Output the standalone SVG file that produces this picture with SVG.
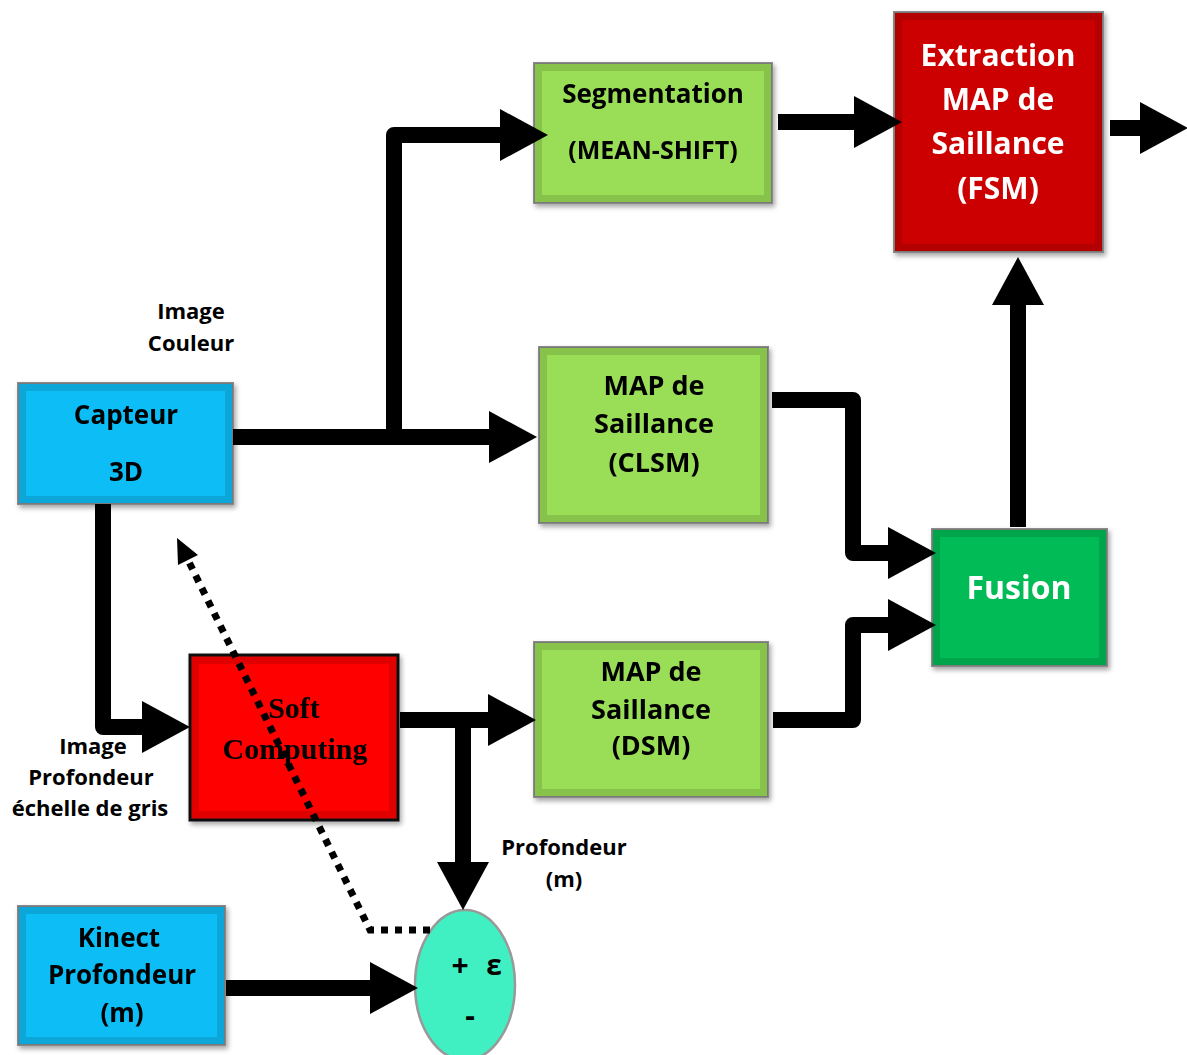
<svg xmlns="http://www.w3.org/2000/svg" width="1187" height="1055" viewBox="0 0 1187 1055">
<defs>
<style>
.box{stroke:#8a8a8a;stroke-width:2}
.bevel{fill:none;stroke:#000;stroke-opacity:0.12;stroke-width:8}
.t{font-family:"Open Sans",Lato,"Liberation Sans",sans-serif;font-weight:bold;text-anchor:middle;fill:#000}
.w{fill:#fff}
.lbl{font-family:"Open Sans",Lato,"Liberation Sans",sans-serif;font-weight:bold;font-size:22px;text-anchor:middle;fill:#000}
.c{fill:none;stroke:#000;stroke-width:16;stroke-linejoin:round;marker-end:url(#ah)}
.dot{fill:none;stroke:#000;stroke-width:7;stroke-dasharray:7 7}
</style>
<marker id="ah" markerUnits="userSpaceOnUse" markerWidth="50" markerHeight="52" refX="0" refY="26" orient="auto" overflow="visible">
<path d="M0,0 L48,26 L0,52 z" fill="#000"/>
</marker>
<filter id="sh" x="-10%" y="-10%" width="130%" height="130%">
<feDropShadow dx="2" dy="3" stdDeviation="2.5" flood-color="#000" flood-opacity="0.35"/>
</filter>
</defs>

<g id="capteur" filter="url(#sh)">
<rect class="box" x="18" y="383" width="215" height="121" fill="#08BDF6"/>
<rect class="bevel" x="22" y="387" width="207" height="113"/>
<text class="t" x="126" y="424" font-size="26">Capteur</text>
<text class="t" x="126" y="481" font-size="26">3D</text>
</g>

<g id="segmentation" filter="url(#sh)">
<rect class="box" x="534" y="63" width="238" height="140" fill="#9ADD57"/>
<rect class="bevel" x="538" y="67" width="230" height="132"/>
<text class="t" x="653" y="103" font-size="26">Segmentation</text>
<text class="t" x="653" y="159" font-size="25">(MEAN-SHIFT)</text>
</g>

<g id="clsm" filter="url(#sh)">
<rect class="box" x="539" y="347" width="229" height="176" fill="#9ADD57"/>
<rect class="bevel" x="543" y="351" width="221" height="168"/>
<text class="t" x="654" y="395" font-size="27">MAP de</text>
<text class="t" x="654" y="433" font-size="27">Saillance</text>
<text class="t" x="654" y="472" font-size="27">(CLSM)</text>
</g>

<g id="dsm" filter="url(#sh)">
<rect class="box" x="534" y="642" width="234" height="155" fill="#9ADD57"/>
<rect class="bevel" x="538" y="646" width="226" height="147"/>
<text class="t" x="651" y="681" font-size="27">MAP de</text>
<text class="t" x="651" y="719" font-size="27">Saillance</text>
<text class="t" x="651" y="755" font-size="27">(DSM)</text>
</g>

<g id="fsm" filter="url(#sh)">
<rect class="box" x="894" y="12" width="209" height="240" fill="#CC0000"/>
<rect class="bevel" x="898" y="16" width="201" height="232"/>
<text class="t w" x="998" y="66" font-size="30">Extraction</text>
<text class="t w" x="998" y="110" font-size="30">MAP de</text>
<text class="t w" x="998" y="154" font-size="30">Saillance</text>
<text class="t w" x="998" y="199" font-size="30">(FSM)</text>
</g>

<g id="fusion" filter="url(#sh)">
<rect class="box" x="932" y="529" width="175" height="137" fill="#06BB56"/>
<rect class="bevel" x="936" y="533" width="167" height="129"/>
<text class="t w" x="1019" y="599" font-size="32">Fusion</text>
</g>

<g id="soft" filter="url(#sh)">
<rect x="190" y="655" width="208" height="165" fill="#FF0000" stroke="#111" stroke-width="3"/>
<rect class="bevel" x="195" y="660" width="198" height="155"/>
<text x="294" y="718" font-family="'Liberation Serif',serif" font-weight="bold" font-size="30" text-anchor="middle">Soft</text>
<text x="295" y="759" font-family="'Liberation Serif',serif" font-weight="bold" font-size="30" text-anchor="middle">Computing</text>
</g>

<g id="kinect" filter="url(#sh)">
<rect class="box" x="18" y="906" width="207" height="139" fill="#08BDF6"/>
<rect class="bevel" x="22" y="910" width="199" height="131"/>
<text class="t" x="119" y="947" font-size="26">Kinect</text>
<text class="t" x="122" y="984" font-size="26">Profondeur</text>
<text class="t" x="122" y="1022" font-size="26">(m)</text>
</g>

<g id="comparateur">
<ellipse cx="465" cy="985" rx="50" ry="75" fill="#40F0C2" stroke="#999" stroke-width="2.5"/>
<text class="t" x="460" y="976" font-size="30">+</text>
<text class="t" x="494" y="975" font-size="28">ε</text>
<text class="t" x="470" y="1026" font-size="30">-</text>
</g>

<g id="labels">
<text class="lbl" x="191" y="319">Image</text>
<text class="lbl" x="191" y="351">Couleur</text>
<text class="lbl" x="93" y="754">Image</text>
<text class="lbl" x="91" y="785">Profondeur</text>
<text class="lbl" x="90" y="816">échelle de gris</text>
<text class="lbl" x="564" y="855">Profondeur</text>
<text class="lbl" x="564" y="887">(m)</text>
</g>

<g id="connectors">
<path class="c" d="M233,437 H489"/>
<path class="c" d="M394,437 V135 H500"/>
<path class="c" d="M778,122 H854"/>
<path class="c" d="M1110,128 H1140"/>
<path class="c" d="M772,400 H853 V553 H888"/>
<path class="c" d="M773,720 H853 V625 H888"/>
<path class="c" d="M1018,527 V305"/>
<path class="c" d="M103,504 V727 H142"/>
<path class="c" d="M400,720 H488"/>
<path class="c" d="M463,720 V862"/>
<path class="c" d="M226,988 H370"/>
<path class="dot" d="M430,930 H370 L188,560"/>
<polygon points="177,538 198,555 178,565" fill="#000"/>
</g>
</svg>
